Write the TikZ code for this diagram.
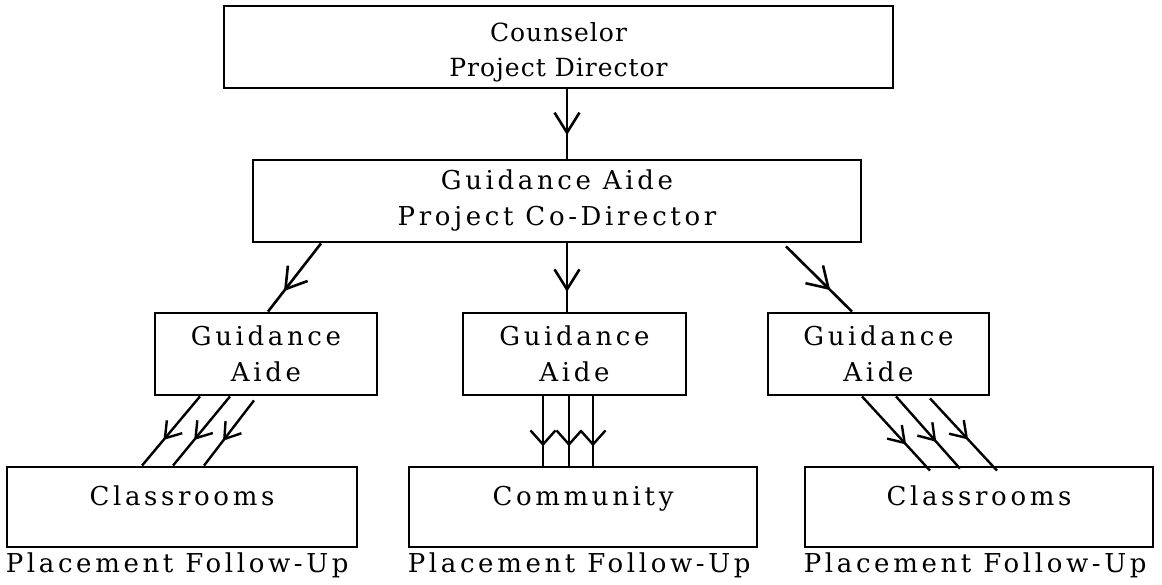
\documentclass[tikz,border=0pt]{standalone}
\usepackage{fontspec}
\newfontfamily\dfont[LetterSpace=14]{DejaVu Serif}
\newfontfamily\tfont[LetterSpace=4]{DejaVu Serif}
\usetikzlibrary{arrows.meta,decorations.markings}
\begin{document}
\begin{tikzpicture}[x=1pt,y=-1pt,
  box/.style={draw,line width=2.8pt,minimum width=#1,minimum height=82pt,inner sep=0pt,
    align=center,font=\dfont\fontsize{26}{36}\selectfont},
  lowbox/.style={draw,line width=2.8pt,minimum width=#1,minimum height=80pt,inner sep=0pt,
    text height=15pt,text depth=19pt,font=\dfont\fontsize{26}{36}\selectfont},
  caption/.style={inner sep=0pt,anchor=base west,font=\dfont\fontsize{26}{36}\selectfont},
  bigarr/.style={line width=2.6pt,postaction={decorate},
    decoration={markings,mark=at position #1 with {\arrow{Straight Barb[length=20pt,width=25pt,line width=2.6pt]}}}},
  smallarr/.style={line width=2.4pt,postaction={decorate},
    decoration={markings,mark=at position #1 with {\arrow{Straight Barb[length=15pt,width=20pt,line width=2.4pt]}}}},
  zigarr/.style={line width=2.4pt,postaction={decorate},
    decoration={markings,mark=at position #1 with {\arrow{Straight Barb[length=14pt,width=25pt,line width=2.4pt]}}}}
]
\useasboundingbox (0,0) rectangle (1162,584);

\node[box=669pt,font=\tfont\fontsize{25}{35}\selectfont] (top) at (558.5,47) {\rule{0pt}{30pt}Counselor\\Project Director};
\node[box=608pt] (second) at (557,201) {Guidance Aide\\Project Co-Director};
\node[box=222pt] (aideL) at (266,354) {Guidance\\Aide};
\node[box=223pt] (aideM) at (574.5,354) {Guidance\\Aide};
\node[box=221pt] (aideR) at (878.5,354) {Guidance\\Aide};
\node[lowbox=350pt] (classL) at (182,507) {Classrooms};
\node[lowbox=348pt] (comm) at (583,507) {Community};
\node[lowbox=348pt] (classR) at (979,507) {Classrooms};

\node[caption] (capL) at ([yshift=-24pt]classL.south west) {Placement Follow-Up};
\node[caption] (capM) at ([yshift=-24pt]comm.south west) {Placement Follow-Up};
\node[caption] (capR) at ([yshift=-24pt]classR.south west) {Placement Follow-Up};

% top -> second
\draw[bigarr=0.66] ([xshift=8.5pt]top.south) -- ([xshift=8.5pt]top.south |- second.north);
% second -> aides
\draw[bigarr=0.70] ([xshift=-236pt]second.south) -- ([xshift=2pt]aideL.north);
\draw[bigarr=0.71] ([xshift=10pt]second.south) -- ([xshift=10pt]second.south |- aideM.north);
\draw[bigarr=0.67] ([xshift=229pt,yshift=-3pt]second.south) -- ([xshift=-26.5pt]aideR.north);

% left aide -> classrooms
\draw[smallarr=0.63] ([xshift=-66pt]aideL.south) -- ([xshift=-40pt]classL.north);
\draw[smallarr=0.63] ([xshift=-36pt]aideL.south) -- ([xshift=-9pt]classL.north);
\draw[smallarr=0.62] ([xshift=-12pt,yshift=-4pt]aideL.south) -- ([xshift=22pt]classL.north);

% middle aide -> community
\draw[zigarr=0.72] ([xshift=-31.5pt]aideM.south) -- ([xshift=-31.5pt]aideM.south |- comm.north);
\draw[zigarr=0.72] ([xshift=-5.5pt]aideM.south) -- ([xshift=-5.5pt]aideM.south |- comm.north);
\draw[zigarr=0.72] ([xshift=18.5pt]aideM.south) -- ([xshift=18.5pt]aideM.south |- comm.north);

% right aide -> classrooms
\draw[smallarr=0.65] ([xshift=-16.5pt]aideR.south) -- ([xshift=-49pt,yshift=-5pt]classR.north);
\draw[smallarr=0.63] ([xshift=17.5pt]aideR.south) -- ([xshift=-19pt,yshift=-3pt]classR.north);
\draw[smallarr=0.57] ([xshift=51.5pt,yshift=-2pt]aideR.south) -- ([xshift=18pt,yshift=-5pt]classR.north);
\end{tikzpicture}
\end{document}
